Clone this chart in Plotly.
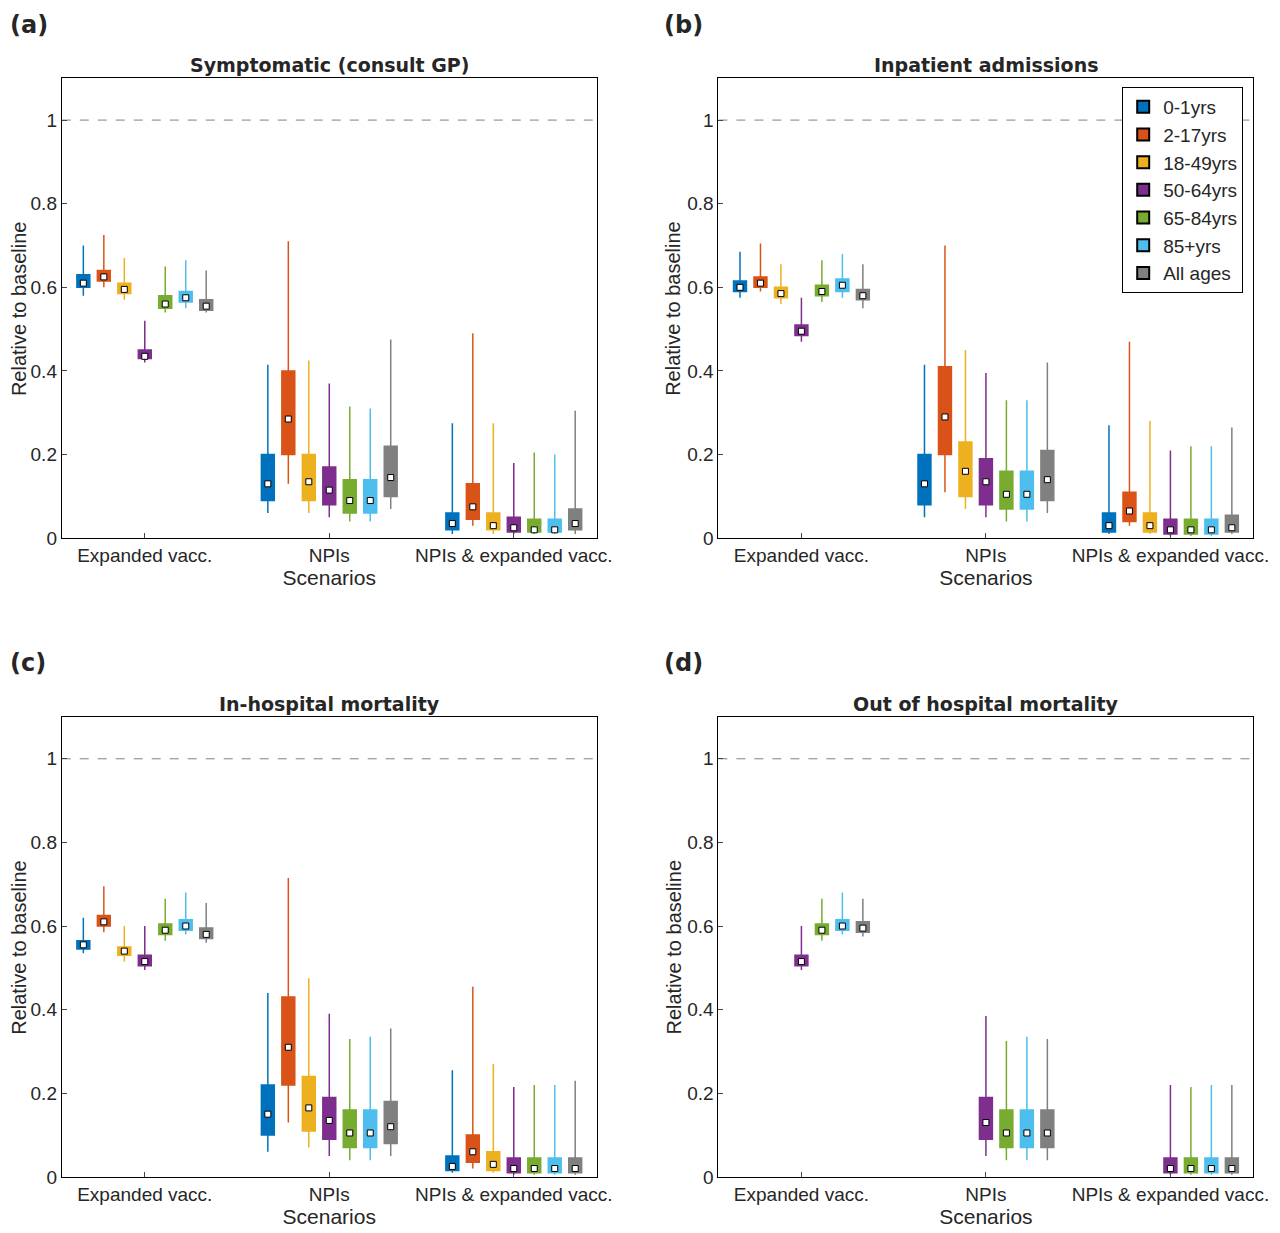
import plotly.graph_objects as go

scenarios = ["Expanded vacc.", "NPIs", "NPIs & expanded vacc."]
ages = ["0-1yrs", "2-17yrs", "18-49yrs", "50-64yrs", "65-84yrs", "85+yrs", "All ages"]
colors = ["#0072BD", "#D95319", "#EDB120", "#7E2F8E", "#77AC30", "#4DBEEE", "#808080"]
titles = ["Symptomatic (consult GP)", "Inpatient admissions",
          "In-hospital mortality", "Out of hospital mortality"]
labels = ["(a)", "(b)", "(c)", "(d)"]

# per panel, per scenario: (min, q1, median, q3, max) for each age group, None = not shown
symptomatic = [
    [(.58, .60, .61, .63, .70), (.60, .615, .625, .64, .725), (.57, .585, .595, .61, .67),
     (.42, .43, .435, .45, .52), (.54, .55, .56, .58, .65), (.55, .565, .575, .59, .665),
     (.54, .545, .555, .57, .64)],
    [(.06, .09, .13, .20, .415), (.13, .20, .285, .40, .71), (.06, .09, .135, .20, .425),
     (.05, .08, .115, .17, .37), (.04, .06, .09, .14, .315), (.04, .06, .09, .14, .31),
     (.07, .10, .145, .22, .475)],
    [(.01, .02, .035, .06, .275), (.03, .045, .075, .13, .49), (.01, .02, .03, .06, .275),
     (.01, .015, .025, .05, .18), (.01, .015, .02, .045, .205), (.01, .015, .02, .045, .20),
     (.01, .02, .035, .07, .305)],
]
inpatient = [
    [(.575, .59, .60, .615, .685), (.59, .60, .61, .625, .705), (.56, .575, .585, .60, .655),
     (.47, .485, .495, .51, .575), (.565, .58, .59, .605, .665), (.575, .59, .605, .62, .68),
     (.55, .57, .58, .595, .655)],
    [(.05, .08, .13, .20, .415), (.11, .20, .29, .41, .70), (.07, .10, .16, .23, .45),
     (.05, .08, .135, .19, .395), (.04, .07, .105, .16, .33), (.04, .07, .105, .16, .33),
     (.06, .09, .14, .21, .42)],
    [(.01, .015, .03, .06, .27), (.03, .04, .065, .11, .47), (.01, .015, .03, .06, .28),
     (.005, .01, .02, .045, .21), (.005, .01, .02, .045, .22), (.005, .01, .02, .045, .22),
     (.01, .015, .025, .055, .265)],
]
in_hospital = [
    [(.535, .545, .555, .565, .62), (.585, .60, .61, .625, .695), (.515, .53, .54, .55, .60),
     (.495, .505, .515, .53, .60), (.565, .58, .59, .605, .665), (.58, .59, .60, .615, .68),
     (.56, .57, .58, .595, .655)],
    [(.06, .10, .15, .22, .44), (.13, .22, .31, .43, .715), (.07, .11, .165, .24, .475),
     (.05, .09, .135, .19, .39), (.04, .07, .105, .16, .33), (.04, .07, .105, .16, .335),
     (.05, .08, .12, .18, .355)],
    [(.01, .015, .025, .05, .255), (.02, .035, .06, .10, .455), (.01, .015, .03, .06, .27),
     (.005, .01, .02, .045, .215), (.005, .01, .02, .045, .22), (.005, .01, .02, .045, .22),
     (.005, .01, .02, .045, .23)],
]
out_hospital = [
    [None, None, None, (.495, .505, .515, .53, .60), (.565, .58, .59, .605, .665),
     (.58, .59, .60, .615, .68), (.575, .585, .595, .61, .665)],
    [None, None, None, (.05, .09, .13, .19, .385), (.04, .07, .105, .16, .325),
     (.04, .07, .105, .16, .335), (.04, .07, .105, .16, .33)],
    [None, None, None, (.005, .01, .02, .045, .22), (.005, .01, .02, .045, .215),
     (.005, .01, .02, .045, .22), (.005, .01, .02, .045, .22)],
]
panels = [symptomatic, inpatient, in_hospital, out_hospital]

xdom = [[0.042, 0.460], [0.555, 0.973]]
ydom = [[0.570, 0.943], [0.052, 0.425]]
label_y = [0.986, 0.469]
ytitle_x = [0.0085, 0.520]
font = "Liberation Sans"

fig = go.Figure()
for p, data in enumerate(panels):
    r, c = divmod(p, 2)
    sfx = "" if p == 0 else str(p + 1)
    xa, ya = "x" + sfx, "y" + sfx
    for s, rows in enumerate(data):
        for i, st in enumerate(rows):
            if st is None:
                continue
            xpos = s + 1 + (i - 3) * 0.111
            lo, q1, med, q3, hi = st
            fig.add_trace(go.Box(
                x=[xpos], q1=[q1], median=[med], q3=[q3], lowerfence=[lo], upperfence=[hi],
                width=0.07, fillcolor=colors[i], line=dict(color=colors[i], width=1.5),
                whiskerwidth=0, xaxis=xa, yaxis=ya, showlegend=False, hoverinfo="skip"))
            fig.add_trace(go.Scatter(
                x=[xpos], y=[med], mode="markers", xaxis=xa, yaxis=ya, showlegend=False,
                marker=dict(symbol="square", size=6, color="white",
                            line=dict(color="black", width=1))))
    fig.add_trace(go.Scatter(x=[0.55, 3.45], y=[1, 1], mode="lines", xaxis=xa, yaxis=ya,
                             line=dict(color="#808080", dash="dash", width=1), showlegend=False))
    fig.layout[("xaxis" + sfx)] = dict(
        domain=xdom[c], range=[0.55, 3.45], tickvals=[1, 2, 3], ticktext=scenarios,
        title=dict(text="Scenarios", standoff=4), anchor=ya, mirror=True, showline=True,
        linecolor="black", ticks="inside", ticklen=5, showgrid=False, zeroline=False,
        tickfont=dict(size=19), title_font=dict(size=21), automargin=False)
    fig.layout[("yaxis" + sfx)] = dict(
        domain=ydom[r], range=[0, 1.1], tickvals=[0, .2, .4, .6, .8, 1],
        ticktext=["0", "0.2", "0.4", "0.6", "0.8", "1"],
        anchor=xa, mirror=True, showline=True, linecolor="black", ticks="inside", ticklen=5,
        showgrid=False, zeroline=False, tickfont=dict(size=19), automargin=False)
    fig.add_annotation(text="Relative to baseline", xref="paper", yref="paper",
                       x=ytitle_x[c], y=sum(ydom[r]) / 2, xanchor="center", yanchor="middle",
                       textangle=-90, showarrow=False, font=dict(size=20))
    fig.add_annotation(text="<b>" + titles[p] + "</b>", xref="paper", yref="paper",
                       x=sum(xdom[c]) / 2, y=ydom[r][1], xanchor="center", yanchor="bottom",
                       showarrow=False, font=dict(size=19, family="DejaVu Sans"))
    fig.add_annotation(text="<b>" + labels[p] + "</b>", xref="paper", yref="paper",
                       x=0.0 if c == 0 else 0.511, y=label_y[r], xanchor="left",
                       yanchor="middle", showarrow=False, font=dict(size=24, family="DejaVu Sans"))

for i, a in enumerate(ages):
    fig.add_trace(go.Bar(x=[None], y=[None], name=a, marker_color=colors[i],
                         marker_line=dict(color="black", width=1), xaxis="x2", yaxis="y2"))

fig.update_layout(
    width=1280, height=1233, plot_bgcolor="white", paper_bgcolor="white",
    margin=dict(l=0, r=0, t=0, b=0), font=dict(family=font, color="#262626"),
    legend=dict(x=0.965, y=0.936, xanchor="right", yanchor="top", bordercolor="black",
                borderwidth=1, font=dict(size=19), tracegroupgap=0, itemwidth=30,
                itemsizing="constant"),
)
fig.write_html("out.html")
